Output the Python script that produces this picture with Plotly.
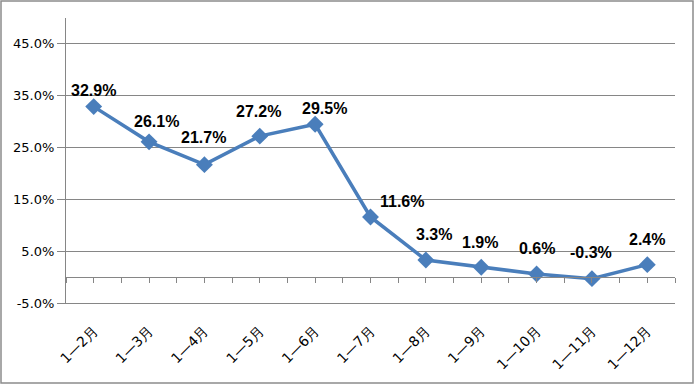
import plotly.graph_objects as go

categories = ["1—2月", "1—3月", "1—4月", "1—5月", "1—6月", "1—7月",
              "1—8月", "1—9月", "1—10月", "1—11月", "1—12月"]
values = [32.9, 26.1, 21.7, 27.2, 29.5, 11.6, 3.3, 1.9, 0.6, -0.3, 2.4]
y_ticks = [-5, 5, 15, 25, 35, 45]

# label offsets (pixels) relative to each marker
label_dx = [0, 7, -1, -1, 9, 31, 8, -1, 0, -1, 0]
label_dy = [16, 20, 27, 25, 16, 15, 25, 25, 25, 26, 25]

W, H = 694, 385
L, R, T, B = 66, 19, 18, 82
pw, ph = W - L - R, H - T - B

xs = list(range(len(categories)))
grid = "#868686"
blue = "#4A7EBB"

fig = go.Figure()
fig.add_trace(go.Scatter(
    x=xs, y=values, mode="lines+markers",
    line=dict(color=blue, width=3.5),
    marker=dict(symbol="diamond", size=13, color=blue),
    hoverinfo="skip", showlegend=False,
))
# invisible trace for the crossing axis at 0
fig.add_trace(go.Scatter(x=[xs[0]], y=[0], xaxis="x2", mode="markers",
                         marker=dict(opacity=0), showlegend=False, hoverinfo="skip"))

for i, v in enumerate(values):
    fig.add_annotation(
        x=xs[i], y=v, text=f"<b>{v:.1f}%</b>", showarrow=False,
        xshift=label_dx[i], yshift=label_dy[i],
        font=dict(family="Liberation Sans", size=16, color="black"),
        xanchor="center", yanchor="middle",
    )

ymin, ymax = -5, 50
fig.update_layout(
    width=W, height=H,
    margin=dict(l=L, r=R, t=T, b=B, pad=0),
    paper_bgcolor="white", plot_bgcolor="white",
    xaxis=dict(
        range=[-0.5, len(categories) - 0.5],
        tickmode="array", tickvals=xs, ticktext=categories,
        tickangle=-45, showgrid=False, zeroline=False,
        showline=True, linecolor=grid, linewidth=1,
        ticks="outside", ticklen=13, tickcolor="rgba(0,0,0,0)",
        tickfont=dict(family="DejaVu Sans", size=14, color="black"),
    ),
    xaxis2=dict(
        overlaying="x", anchor="free", side="bottom",
        position=(0 - ymin) / (ymax - ymin),
        range=[-0.5, len(categories) - 0.5],
        tickmode="linear", tick0=-0.5, dtick=0.5,
        ticks="outside", ticklen=5, tickcolor=grid, tickwidth=1,
        showticklabels=False, showgrid=False, zeroline=False,
        showline=True, linecolor=grid, linewidth=1,
    ),
    yaxis=dict(
        range=[ymin, ymax], tickmode="array", tickvals=y_ticks,
        ticktext=[f"{t:.1f}%" for t in y_ticks],
        showgrid=True, gridcolor=grid, gridwidth=1, zeroline=False,
        showline=True, linecolor=grid, linewidth=1,
        ticks="outside", ticklen=8, tickcolor=grid,
        tickfont=dict(family="DejaVu Sans", size=13, color="black"),
    ),
)

fig.add_shape(type="rect", xref="paper", yref="paper",
              x0=(1 - L) / pw, x1=(W - 1 - L) / pw,
              y0=-(H - 2 - (T + ph)) / ph, y1=(T + ph - 1) / ph,
              line=dict(color="#8C8C8C", width=1.5), fillcolor="rgba(0,0,0,0)",
              layer="below")

fig.write_html("out.html", config={"displayModeBar": False},
               post_script="document.body.style.margin='0';document.body.style.overflow='hidden';")
